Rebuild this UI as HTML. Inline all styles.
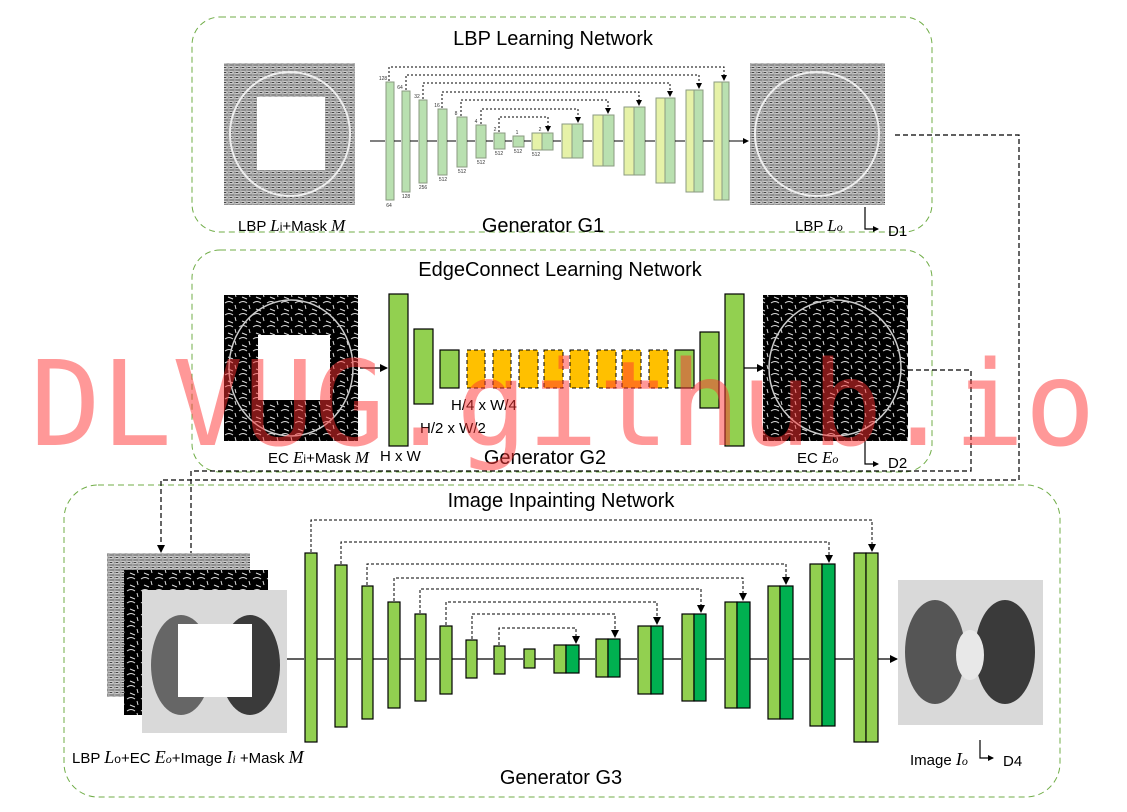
<!DOCTYPE html>
<html><head><meta charset="utf-8"><style>
html,body{margin:0;padding:0;background:#fff;}
svg{display:block;font-family:"Liberation Sans",sans-serif;}
</style></head><body>
<svg width="1127" height="812" viewBox="0 0 1127 812" xmlns="http://www.w3.org/2000/svg">
<defs>
<marker id="a" markerWidth="8" markerHeight="8" refX="7" refY="4" orient="auto" markerUnits="userSpaceOnUse"><path d="M0,0 L8,4 L0,8 z" fill="#000"/></marker>
<marker id="s" markerWidth="6" markerHeight="6" refX="5" refY="3" orient="auto" markerUnits="userSpaceOnUse"><path d="M0,0 L6,3 L0,6 z" fill="#000"/></marker>
<pattern id="lbp" width="6" height="5" patternUnits="userSpaceOnUse"><rect width="6" height="5" fill="#8f8f8f"/><path d="M0,1 L6,2 M0,4 L6,3" stroke="#e0e0e0" stroke-width="0.8"/><rect x="2" y="2" width="2" height="1" fill="#444"/></pattern>
<pattern id="ec" width="14" height="12" patternUnits="userSpaceOnUse"><rect width="14" height="12" fill="#000"/><path d="M1,3 q4,-3 8,0 M4,9 l5,2 M11,5 l1,4" stroke="#ddd" stroke-width="1" fill="none"/></pattern>
</defs>

<g fill="none" stroke="#70ad47" stroke-width="1" stroke-dasharray="6,4">
<rect x="192" y="17" width="740" height="215" rx="28"/>
<rect x="192" y="250" width="740" height="222" rx="28"/>
<rect x="64" y="485" width="996" height="312" rx="34"/>
</g>

<g font-size="20" text-anchor="middle" fill="#000">
<text x="553" y="45">LBP Learning Network</text>
<text x="560" y="276">EdgeConnect Learning Network</text>
<text x="561" y="507">Image Inpainting Network</text>
<text x="543" y="232">Generator G1</text>
<text x="545" y="464">Generator G2</text>
<text x="561" y="784">Generator G3</text>
</g>

<rect x="224" y="63" width="131" height="142" fill="url(#lbp)"/>
<ellipse cx="290" cy="134" rx="60" ry="62" fill="none" stroke="#eee" stroke-width="2"/>
<rect x="257" y="97" width="68" height="73" fill="#fff"/>
<rect x="750" y="63" width="135" height="142" fill="url(#lbp)"/>
<ellipse cx="817" cy="134" rx="62" ry="62" fill="none" stroke="#eee" stroke-width="2"/>
<g font-size="15" fill="#000">
<text x="238" y="231">LBP <tspan font-family="Liberation Serif" font-style="italic" font-size="17">L</tspan><tspan font-size="12">i</tspan>+Mask <tspan font-family="Liberation Serif" font-style="italic" font-size="17">M</tspan></text>
<text x="795" y="231">LBP <tspan font-family="Liberation Serif" font-style="italic" font-size="17">L</tspan><tspan font-family="Liberation Serif" font-style="italic" font-size="12">o</tspan></text>
<text x="888" y="236" font-size="15">D1</text>
<text x="268" y="463">EC <tspan font-family="Liberation Serif" font-style="italic" font-size="17">E</tspan><tspan font-size="12">i</tspan>+Mask <tspan font-family="Liberation Serif" font-style="italic" font-size="17">M</tspan></text>
<text x="797" y="463">EC <tspan font-family="Liberation Serif" font-style="italic" font-size="17">E</tspan><tspan font-family="Liberation Serif" font-style="italic" font-size="12">o</tspan></text>
<text x="888" y="468" font-size="15">D2</text>
<text x="380" y="461" font-size="15">H x W</text>
<text x="420" y="433" font-size="15">H/2 x W/2</text>
<text x="451" y="410" font-size="15">H/4 x W/4</text>
<text x="72" y="763" font-size="15">LBP <tspan font-family="Liberation Serif" font-style="italic" font-size="18">L</tspan><tspan font-size="12">o</tspan>+EC <tspan font-family="Liberation Serif" font-style="italic" font-size="18">E</tspan><tspan font-family="Liberation Serif" font-style="italic" font-size="12">o</tspan>+Image <tspan font-family="Liberation Serif" font-style="italic" font-size="18">I</tspan><tspan font-family="Liberation Serif" font-style="italic" font-size="12">i</tspan> +Mask <tspan font-family="Liberation Serif" font-style="italic" font-size="18">M</tspan></text>
<text x="910" y="765" font-size="15">Image <tspan font-family="Liberation Serif" font-style="italic" font-size="18">I</tspan><tspan font-family="Liberation Serif" font-style="italic" font-size="12">o</tspan></text>
<text x="1003" y="766" font-size="15">D4</text>
</g>
<g stroke="#000" stroke-width="1.2" fill="none">
<path d="M865,207 V229 H878" marker-end="url(#s)"/>
<path d="M865,441 V464 H878" marker-end="url(#s)"/>
<path d="M980,740 V758 H993" marker-end="url(#s)"/>
</g>

<g stroke="#8a9a80" stroke-width="1">
<g fill="#b9e0b0">
<rect x="386" y="82" width="8" height="118"/><rect x="402" y="91" width="8" height="101"/>
<rect x="419" y="100" width="8" height="83"/><rect x="438" y="109" width="9" height="66"/>
<rect x="457" y="117" width="10" height="50"/><rect x="476" y="125" width="10" height="33"/>
<rect x="494" y="133" width="11" height="16"/><rect x="513" y="136" width="11" height="11"/>
<rect x="542" y="133" width="11" height="17"/><rect x="572" y="124" width="11" height="34"/>
<rect x="603" y="115" width="11" height="51"/><rect x="634" y="107" width="11" height="68"/>
<rect x="665" y="98" width="10" height="85"/><rect x="694" y="90" width="9" height="102"/>
<rect x="722" y="82" width="7" height="118"/>
</g>
<g fill="#e6f2a8">
<rect x="532" y="133" width="10" height="17"/><rect x="562" y="124" width="10" height="34"/>
<rect x="593" y="115" width="10" height="51"/><rect x="624" y="107" width="10" height="68"/>
<rect x="656" y="98" width="9" height="85"/><rect x="686" y="90" width="8" height="102"/>
<rect x="714" y="82" width="8" height="118"/>
</g>
</g>
<g stroke="#000" stroke-width="1" fill="none">
<path d="M370,141 H385 M394,141 H401 M410,141 H418 M427,141 H437 M447,141 H456 M467,141 H475 M486,141 H493 M505,141 H512 M524,141 H531 M553,141 H561 M583,141 H592 M614,141 H623 M645,141 H655 M675,141 H685 M703,141 H713 M729,141 H748" marker-end="url(#s)"/>
</g>
<g stroke="#000" stroke-width="1" fill="none" stroke-dasharray="2,2">
<path d="M389,81 V67 H724 V80" marker-end="url(#s)"/>
<path d="M406,90 V75 H699 V88" marker-end="url(#s)"/>
<path d="M423,99 V83 H670 V96" marker-end="url(#s)"/>
<path d="M442,108 V92 H639 V105" marker-end="url(#s)"/>
<path d="M461,116 V100 H608 V113" marker-end="url(#s)"/>
<path d="M481,124 V109 H578 V122" marker-end="url(#s)"/>
<path d="M499,132 V117 H548 V131" marker-end="url(#s)"/>
</g>
<g font-size="5" fill="#333" text-anchor="middle">
<text x="383" y="80">128</text><text x="400" y="89">64</text><text x="417" y="98">32</text><text x="437" y="107">16</text><text x="456" y="115">8</text><text x="476" y="123">4</text><text x="495" y="131">2</text><text x="517" y="134">1</text><text x="540" y="131">2</text>
<text x="389" y="207">64</text><text x="406" y="198">128</text><text x="423" y="189">256</text><text x="443" y="181">512</text><text x="462" y="173">512</text><text x="481" y="164">512</text><text x="499" y="155">512</text><text x="518" y="153">512</text><text x="536" y="156">512</text>
</g>

<rect x="224" y="295" width="134" height="146" fill="url(#ec)"/>
<ellipse cx="291" cy="368" rx="62" ry="68" fill="none" stroke="#ccc" stroke-width="1.5"/>
<rect x="258" y="335" width="72" height="65" fill="#fff"/>
<rect x="763" y="295" width="145" height="146" fill="url(#ec)"/>
<ellipse cx="835" cy="368" rx="66" ry="68" fill="none" stroke="#ccc" stroke-width="1.5"/>

<g stroke="#000" stroke-width="1.2" fill="#92d050">
<rect x="389" y="294" width="19" height="152"/><rect x="414" y="329" width="19" height="75"/>
<rect x="440" y="350" width="19" height="38"/><rect x="675" y="350" width="19" height="38"/>
<rect x="700" y="332" width="19" height="76"/><rect x="725" y="294" width="19" height="152"/>
</g>
<g stroke="#000" stroke-width="1" fill="#ffc000" stroke-dasharray="4,3">
<rect x="467" y="350" width="18" height="38"/><rect x="493" y="350" width="18" height="38"/>
<rect x="519" y="350" width="19" height="38"/><rect x="544" y="350" width="19" height="38"/>
<rect x="570" y="350" width="19" height="38"/><rect x="597" y="350" width="19" height="38"/>
<rect x="622" y="350" width="19" height="38"/><rect x="649" y="350" width="19" height="38"/>
</g>
<g stroke="#000" stroke-width="1.2" fill="none">
<path d="M360,368 H387" marker-end="url(#a)"/><path d="M744,368 H764" marker-end="url(#a)"/>
</g>

<g stroke="#000" stroke-width="1.2" fill="none" stroke-dasharray="5,3">
<path d="M895,135 H1019 V480 H161 V552" marker-end="url(#a)"/>
<path d="M908,370 H971 V471 H191 V569" marker-end="url(#a)"/>
</g>

<rect x="107" y="553" width="143" height="144" fill="url(#lbp)"/>
<rect x="124" y="570" width="144" height="145" fill="url(#ec)"/>
<rect x="142" y="590" width="145" height="143" fill="#d9d9d9"/>
<ellipse cx="181" cy="665" rx="30" ry="50" fill="#666"/>
<ellipse cx="250" cy="665" rx="30" ry="50" fill="#3a3a3a"/>
<rect x="178" y="624" width="74" height="73" fill="#fff"/>
<rect x="898" y="580" width="145" height="145" fill="#d9d9d9"/>
<ellipse cx="935" cy="652" rx="30" ry="52" fill="#555"/>
<ellipse cx="1005" cy="652" rx="30" ry="52" fill="#3a3a3a"/>
<ellipse cx="970" cy="655" rx="14" ry="25" fill="#e8e8e8"/>

<g stroke="#000" stroke-width="1.2">
<g fill="#92d050">
<rect x="305" y="553" width="12" height="189"/><rect x="335" y="565" width="12" height="162"/>
<rect x="362" y="586" width="11" height="133"/><rect x="388" y="602" width="12" height="106"/>
<rect x="415" y="614" width="11" height="87"/><rect x="440" y="626" width="12" height="68"/>
<rect x="466" y="640" width="11" height="38"/><rect x="494" y="646" width="11" height="28"/>
<rect x="524" y="649" width="11" height="19"/>
<rect x="554" y="645" width="12" height="28"/><rect x="596" y="639" width="12" height="38"/>
<rect x="638" y="626" width="13" height="68"/><rect x="682" y="614" width="12" height="87"/>
<rect x="725" y="602" width="12" height="106"/><rect x="768" y="586" width="12" height="133"/>
<rect x="810" y="564" width="12" height="162"/><rect x="854" y="553" width="12" height="189"/>
</g>
<g fill="#00b050">
<rect x="566" y="645" width="13" height="28"/><rect x="608" y="639" width="12" height="38"/>
<rect x="651" y="626" width="12" height="68"/><rect x="694" y="614" width="12" height="87"/>
<rect x="737" y="602" width="13" height="106"/><rect x="780" y="586" width="13" height="133"/>
<rect x="822" y="564" width="13" height="162"/>
</g>
<rect x="866" y="553" width="12" height="189" fill="#92d050"/>
</g>
<g stroke="#000" stroke-width="1.2" fill="none">
<path d="M287,659 H304 M317,659 H334 M347,659 H361 M373,659 H387 M400,659 H414 M426,659 H439 M452,659 H465 M477,659 H493 M505,659 H523 M535,659 H553 M579,659 H595 M620,659 H637 M663,659 H681 M706,659 H724 M750,659 H767 M793,659 H809 M835,659 H853 M878,659 H897" marker-end="url(#a)"/>
</g>
<g stroke="#000" stroke-width="1" fill="none" stroke-dasharray="3,2">
<path d="M311,552 V520 H872 V551" marker-end="url(#a)"/>
<path d="M341,564 V542 H829 V562" marker-end="url(#a)"/>
<path d="M367,585 V564 H786 V584" marker-end="url(#a)"/>
<path d="M394,601 V578 H743 V600" marker-end="url(#a)"/>
<path d="M420,613 V589 H701 V612" marker-end="url(#a)"/>
<path d="M446,625 V602 H657 V624" marker-end="url(#a)"/>
<path d="M472,639 V614 H615 V637" marker-end="url(#a)"/>
<path d="M499,645 V628 H576 V643" marker-end="url(#a)"/>
</g>

<text x="30" y="445" font-family="DejaVu Sans Mono, monospace" font-size="118" fill="rgba(255,50,50,0.5)">DLVUG.github.io</text>
</svg>
</body></html>
